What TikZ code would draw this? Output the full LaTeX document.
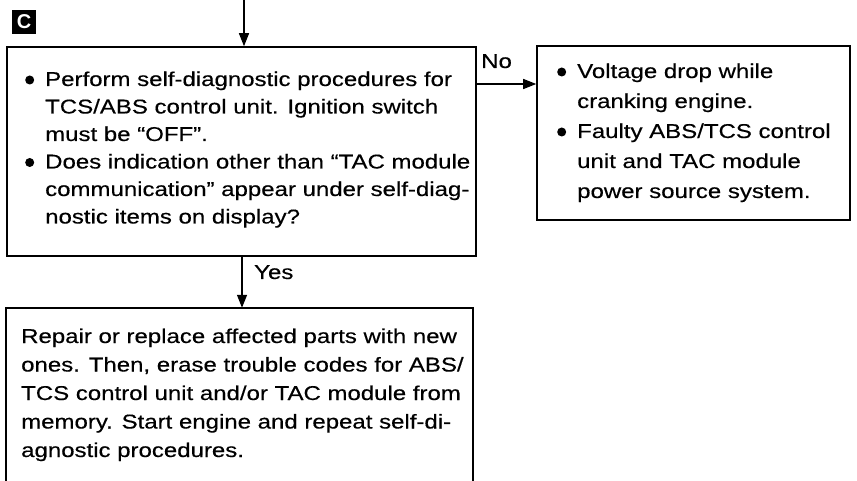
\documentclass[tikz,border=0pt]{standalone}
\usepackage{fontspec}
\setmainfont{Liberation Sans}[FakeStretch=1.2,FakeBold=0.4]
\newfontfamily\lblfont{Liberation Sans}
\usetikzlibrary{arrows.meta}
\newcommand{\bdot}{\makebox[20pt][l]{\tikz[baseline=0pt]\fill (4.5pt,6pt) circle[radius=4.5pt];}}
\newcommand{\bind}{\hspace*{20pt}}
\tikzset{
  box/.style={draw=black, line width=1.6pt, inner sep=0pt},
  openbox/.style={inner sep=0pt},
  boxline/.style={draw=black, line width=1.6pt},
  txt/.style={inner sep=0pt, anchor=base west},
  arr/.style={draw=black, line width=1.3pt, -{Triangle[length=13pt,width=10pt]}},
  lab/.style={inner sep=0pt, anchor=base west, font=\fontsize{20}{24}\selectfont}
}
\begin{document}
\begin{tikzpicture}[x=1pt,y=-1pt]
\useasboundingbox (0,0) rectangle (857,481);
% C label
\node[fill=black, text=white, minimum size=24pt, inner sep=0pt, font=\lblfont\bfseries\fontsize{20}{20}\selectfont] (lbl) at (24,22) {C};
% boxes
\node[box, minimum width=469pt, minimum height=209pt] (b1) at (241.5,151.5) {};
\node[box, minimum width=313pt, minimum height=174pt] (b2) at (693.5,133) {};
\node[openbox, minimum width=467pt, minimum height=177pt] (b3) at (239.5,396.5) {};
\draw[boxline] (b3.south west) -- (b3.north west) -- (b3.north east) -- (b3.south east);
% texts
\node[txt] (t1) at (25,86) {\parbox[t]{460pt}{\fontsize{20}{27.5}\selectfont
\bdot Perform self-diagnostic procedures for\\
\bind TCS/ABS control unit. Ignition switch\\
\bind must be “OFF”.\\
\bdot Does indication other than “TAC module\\
\bind communication” appear under self-diag-\\
\bind nostic items on display?}};
\node[txt] (t2) at (557,78) {\parbox[t]{300pt}{\fontsize{20}{30}\selectfont
\bdot Voltage drop while\\
\bind cranking engine.\\
\bdot Faulty ABS/TCS control\\
\bind unit and TAC module\\
\bind power source system.}};
\node[txt] (t3) at (21,343) {\parbox[t]{460pt}{\fontsize{20}{28.5}\selectfont
Repair or replace affected parts with new\\
ones. Then, erase trouble codes for ABS/\\
TCS control unit and/or TAC module from\\
memory. Start engine and repeat self-di-\\
agnostic procedures.}};
% connectors
\coordinate (topin) at (244,0);
\draw[arr] (topin) -- (topin |- b1.north);
\coordinate (ny) at (0,84);
\draw[arr] (b1.east |- ny) -- (b2.west |- ny);
\node[lab] (no) at (481,68) {No};
\coordinate (yx) at (242,0);
\draw[arr] (yx |- b1.south) -- (yx |- b3.north);
\node[lab] (yes) at (254,279) {Yes};
\end{tikzpicture}
\end{document}
